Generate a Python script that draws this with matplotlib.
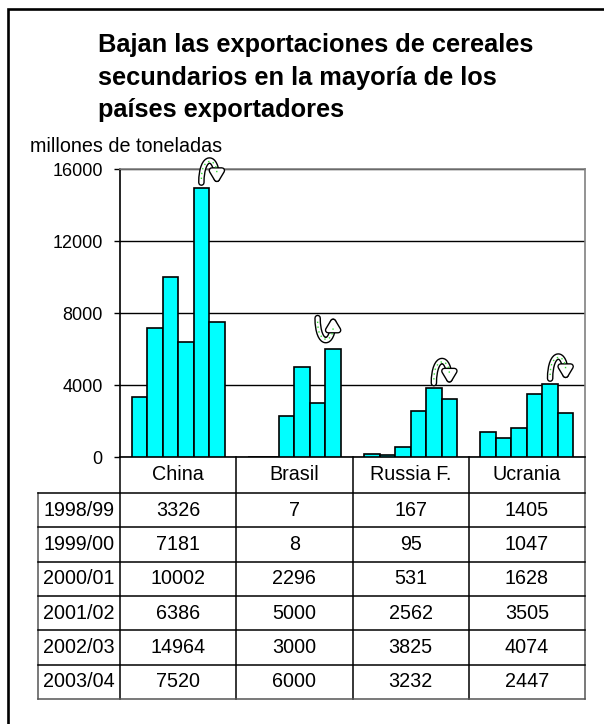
import numpy as np
import matplotlib.pyplot as plt
from matplotlib.lines import Line2D
from matplotlib.patches import FancyArrowPatch, PathPatch, Rectangle
from matplotlib.path import Path
from matplotlib.transforms import blended_transform_factory
import matplotlib.patheffects as pe

plt.rcParams['font.family'] = ['Liberation Sans', 'DejaVu Sans']

# data
countries = ['China', 'Brasil', 'Russia F.', 'Ucrania']
seasons = ['1998/99', '1999/00', '2000/01', '2001/02', '2002/03', '2003/04']
china = [3326, 7181, 10002, 6386, 14964, 7520]
brasil = [7, 8, 2296, 5000, 3000, 6000]
russia = [167, 95, 531, 2562, 3825, 3232]
ucrania = [1405, 1047, 1628, 3505, 4074, 2447]
# 1 = arrow arches over (points down), -1 = dips under (points up)
arrow_dir = [1, -1, 1, 1]
title_lines = ['Bajan las exportaciones de cereales',
               'secundarios en la mayoría de los',
               'países exportadores']
ylabel = 'millones de toneladas'
yticks = [0, 4000, 8000, 12000, 16000]

series = [china, brasil, russia, ucrania]
W, H = 604, 724
fig = plt.figure(figsize=(W / 100, H / 100), dpi=100)
fig.patch.set_facecolor('white')

# outer chart frame (cut off on right and bottom)
fig.add_artist(Rectangle((8 / W, -0.5), 2, 1.5 - 9 / H, transform=fig.transFigure,
                         fill=False, ec='black', lw=1.9))

for k, line in enumerate(title_lines):
    fig.text(98 / W, 1 - (52 + 32.5 * k) / H, line, fontsize=18.3,
             fontweight='bold', va='baseline', ha='left')
fig.text(30 / W, 1 - 152 / H, ylabel, fontsize=14.2, va='baseline', ha='left')

ax = fig.add_axes([120 / W, 1 - 457 / H, 465 / W, 288 / H])

n_cat = len(countries)
n_ser = len(seasons)
bw = 0.8 / n_ser
cat_x = np.arange(n_cat)
for j in range(n_ser):
    vals = [s[j] for s in series]
    ax.bar(cat_x + 0.1 + bw * (j + 0.5), vals, width=bw, color='#00FFFF',
           edgecolor='black', lw=1.2, zorder=3)

ax.set_xlim(0, n_cat)
ax.set_ylim(yticks[0], yticks[-1])
ax.set_yticks(yticks)
ax.set_yticklabels([str(t) for t in yticks], fontsize=13)
ax.set_xticks([])
ax.tick_params(axis='y', direction='out', length=4.5, width=1, pad=8, colors='black')
ax.yaxis.grid(True, color='black', lw=1)
ax.set_axisbelow(True)
for side in ['top', 'right']:
    ax.spines[side].set_color('#808080')
    ax.spines[side].set_linewidth(1.2)
for side in ['left', 'bottom']:
    ax.spines[side].set_color('black')
    ax.spines[side].set_linewidth(1.2)

# curved arrows between the last two seasons
for i, d in enumerate(arrow_dir):
    x5 = i + 0.1 + bw * 4.5
    x6 = i + 0.1 + bw * 5.5
    top = max(series[i][4], series[i][5])
    h = 1200
    if d == 1:
        y0 = top + 280
        c = y0 + h * 4 / 3
    else:
        y0 = top + 1720
        c = y0 - h * 4 / 3
    verts = [(x5, y0), (x5, c), (x6, c), (x6, y0)]
    codes = [Path.MOVETO, Path.CURVE4, Path.CURVE4, Path.CURVE4]
    arr = FancyArrowPatch(path=Path(verts, codes),
                          arrowstyle='-|>,head_length=0.6,head_width=0.36',
                          mutation_scale=10, color='white', lw=2.8,
                          path_effects=[pe.Stroke(linewidth=4.8, foreground='black'),
                                        pe.Normal()],
                          clip_on=False, zorder=5)
    ax.add_patch(arr)
    gv = [(x5, y0 + d * 200), (x5, c - d * 150), (x6, c - d * 150), (x6, y0 + d * 500)]
    ax.add_patch(PathPatch(Path(gv, codes), fill=False, ec='#33dd33', lw=1,
                           ls=(0, (1, 2.5)), clip_on=False, zorder=6))

# data table under the plot
tr = blended_transform_factory(ax.transData, ax.transAxes)
hdr_h = 36 / 288
row_h = 34.33 / 288
lab_left = -82 / 116.25
bottom = -(hdr_h + n_ser * row_h)


def tline(xs, ys, color='black'):
    ax.add_artist(Line2D(xs, ys, color=color, lw=1.1, transform=tr, clip_on=False))


for k in range(n_cat + 1):
    tline([k, k], [0, bottom], '#555555' if k == n_cat else 'black')
tline([lab_left, lab_left], [-hdr_h, bottom], '#555555')
for r in range(n_ser + 1):
    y = -hdr_h - r * row_h
    tline([lab_left, n_cat], [y, y], '#555555' if r == n_ser else 'black')

for i, name in enumerate(countries):
    ax.text(i + 0.5, -hdr_h / 2, name, transform=tr, ha='center', va='center',
            fontsize=14.2)
for r, season in enumerate(seasons):
    yc = -hdr_h - (r + 0.5) * row_h
    ax.text(lab_left / 2, yc, season, transform=tr, ha='center', va='center',
            fontsize=14.2)
    for i in range(n_cat):
        ax.text(i + 0.5, yc, str(series[i][r]), transform=tr, ha='center',
                va='center', fontsize=14.2)

fig.savefig('out.png', dpi=100)
